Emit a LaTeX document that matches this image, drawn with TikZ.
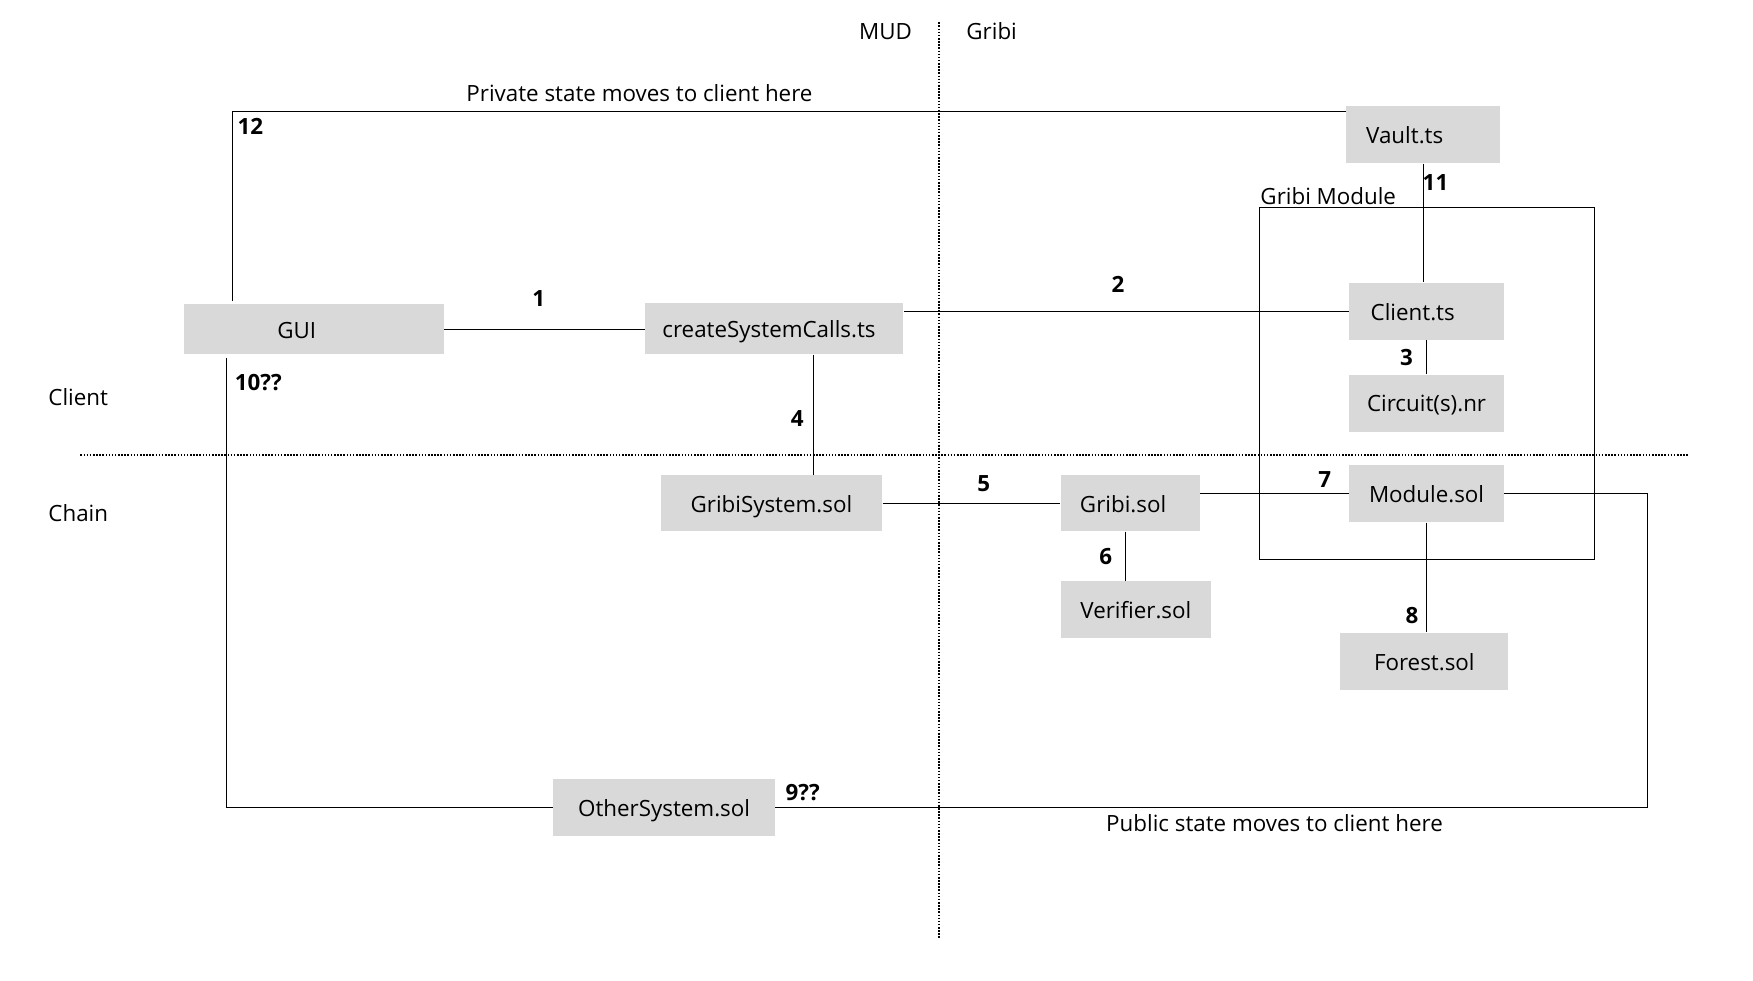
\documentclass[tikz,border=0pt]{standalone}
\usepackage{fontspec}
\setmainfont{Open Sans}
\definecolor{boxgray}{HTML}{D9D9D9}

\begin{document}
\begin{tikzpicture}[x=1pt,y=-1pt,line width=0.9pt,
  box/.style n args={2}{fill=boxgray,inner sep=0pt,minimum width=#1,minimum height=#2,
    text height=16pt,text depth=0pt,font=\fontsize{20}{24}\selectfont},
  lft/.style={text width=#1,align=left},
  txt/.style={inner sep=0pt,font=\fontsize{20}{24}\selectfont},
  num/.style={inner sep=0pt,font=\fontsize{20}{24}\selectfont\bfseries},
  divider/.style={line width=1.3pt,dash pattern=on 1.4pt off 1.4pt}]
  \useasboundingbox (0,0) rectangle (1568,876.6);

  \draw[divider] (840,20) -- (840,840);
  \draw[divider] (72,407) -- (1510,407);
  \draw (1127,186) rectangle (1426,500);

  \node[box={232pt}{45pt},lft=66pt]  (gui)    at (281,294.5)  {GUI};
  \node[box={231pt}{46pt},lft=200pt] (csc)    at (692.5,294)  {createSystemCalls.ts};
  \node[box={138pt}{51pt},lft=102pt] (vault)  at (1273,120.5) {Vault.ts};
  \node[box={138pt}{51pt},lft=100pt] (cli)    at (1276,278.5) {Client.ts};
  \node[box={138pt}{51pt}]           (circ)   at (1276,360.5) {Circuit(s).nr};
  \node[box={198pt}{50pt}]           (gsys)   at (690,450)    {GribiSystem.sol};
  \node[box={124pt}{50pt},lft=90pt]  (gribi)  at (1011,450)   {Gribi.sol};
  \node[box={138pt}{51pt}]           (mod)    at (1276,441.5) {Module.sol};
  \node[box={134pt}{51pt}]           (ver)    at (1016,545.5) {Verifier.sol};
  \node[box={150pt}{51pt}]           (forest) at (1274,591.5) {Forest.sol};
  \node[box={198pt}{51pt}]           (oth)    at (594,722.5)  {OtherSystem.sol};
  \coordinate (pubcorner) at (1474,441.5);

  \draw (gui.east) -- (gui.east -| csc.west);
  \draw (csc.east |- cli.west) -- (cli.west);
  \draw (vault.south) -- (vault.south |- cli.north);
  \draw (cli.south) -- (cli.south |- circ.north);
  \draw ([xshift=35pt]csc.south) -- ([xshift=35pt]csc.south |- gsys.north);
  \draw (gsys) -- (gribi);
  \draw (gribi.east |- mod.west) -- (mod.west);
  \draw ([xshift=-4pt]gribi.south) -- ([xshift=-4pt]gribi.south |- ver.north);
  \draw (mod.south) -- (mod.south |- forest.north);
  \draw ([xshift=43pt,yshift=2pt]gui.north west) |- ([yshift=-5pt]vault.north west);
  \draw ([xshift=38pt,yshift=-3pt]gui.south west) |- (oth.west);
  \draw (mod.east) -- (pubcorner) |- (oth.east);

  \node[txt] at (792,28)  {MUD};
  \node[txt] at (887,28)  {Gribi};
  \node[txt] at (572,83)  {Private state moves to client here};
  \node[txt] at (1140,736) {Public state moves to client here};
  \node[txt] at (70,355)  {Client};
  \node[txt] at (70,459)  {Chain};
  \node[txt,anchor=south west] at (1127,184) {Gribi Module};

  \node[num] at (482,267)  {1};
  \node[num] at (1000,254) {2};
  \node[num] at (1258,320) {3};
  \node[num] at (713,374)  {4};
  \node[num] at (880,433)  {5};
  \node[num] at (989,498)  {6};
  \node[num] at (1185,429) {7};
  \node[num] at (1263,551) {8};
  \node[num] at (718,709)  {9??};
  \node[num] at (231,342)  {10??};
  \node[num] at (1284,163) {11};
  \node[num] at (224,113)  {12};
\end{tikzpicture}
\end{document}
